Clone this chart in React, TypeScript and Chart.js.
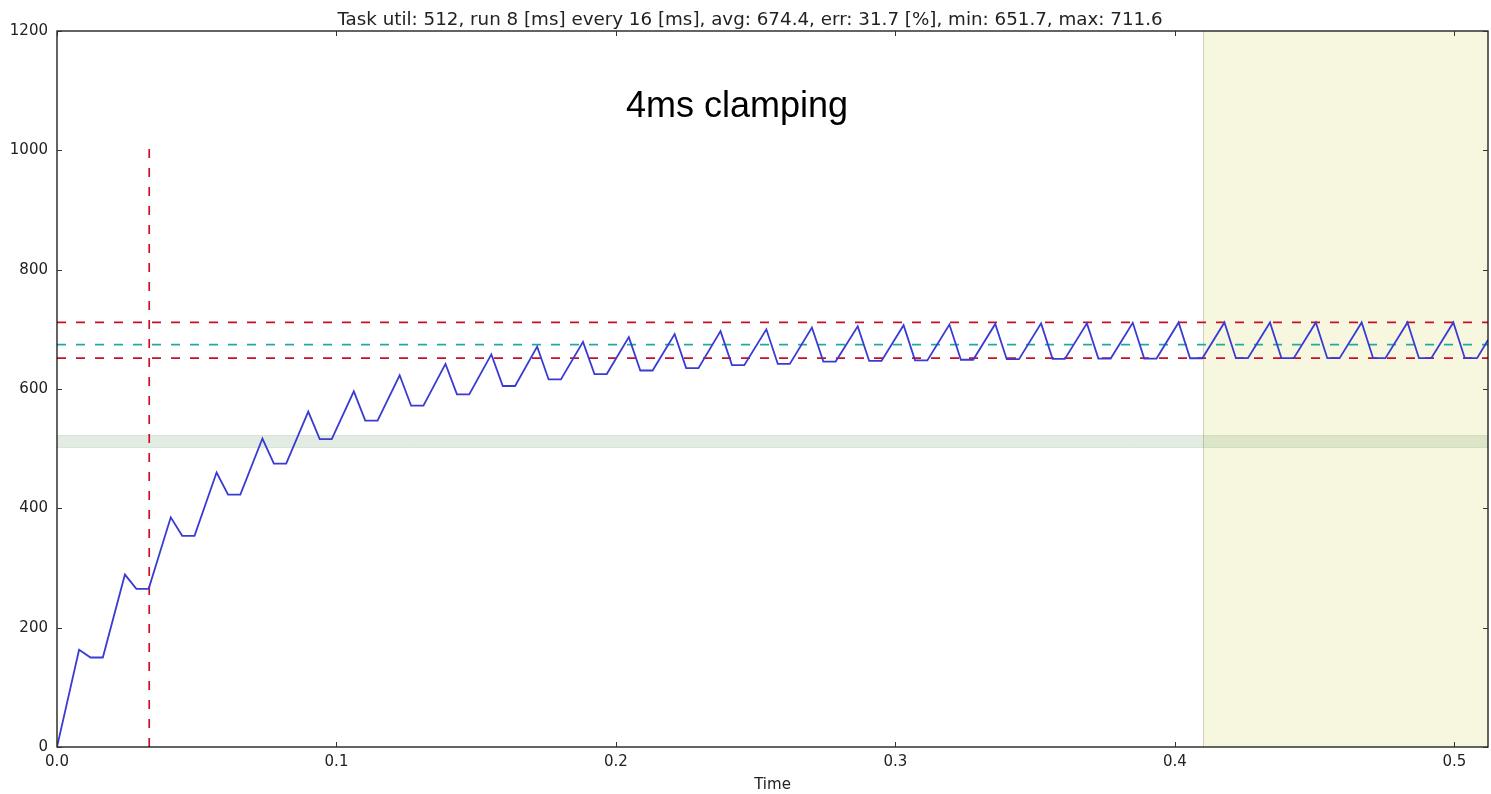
import React, { useEffect, useRef } from "react";
import { Chart, registerables } from "chart.js";

Chart.register(...registerables);

const TITLE = "Task util: 512, run 8 [ms] every 16 [ms], avg: 674.4, err: 31.7 [%], min: 651.7, max: 711.6";
const NOTE = "4ms clamping";
const X_LABEL = "Time";

// Blue series: rise start, peak, decay end (then flat until next rise start)
const cycleStart = [0, 0.0164, 0.0328, 0.0492, 0.0656, 0.082, 0.0983, 0.1147, 0.1311, 0.1475, 0.1639, 0.1803, 0.1967, 0.2131, 0.2295, 0.2459, 0.2622, 0.2786, 0.295, 0.3114, 0.3278, 0.3442, 0.3606, 0.377, 0.3934, 0.4098, 0.4261, 0.4425, 0.4589, 0.4753, 0.4917, 0.5081];
const peakTimes = [0.0079, 0.0243, 0.0407, 0.0571, 0.0735, 0.0899, 0.1062, 0.1226, 0.139, 0.1554, 0.1718, 0.1882, 0.2046, 0.221, 0.2374, 0.2538, 0.2701, 0.2865, 0.3029, 0.3193, 0.3357, 0.3521, 0.3685, 0.3849, 0.4013, 0.4177, 0.434, 0.4504, 0.4668, 0.4832, 0.4996];
const lowTimes = [0.012, 0.0284, 0.0448, 0.0612, 0.0776, 0.094, 0.1103, 0.1267, 0.1431, 0.1595, 0.1759, 0.1923, 0.2087, 0.2251, 0.2415, 0.2579, 0.2742, 0.2906, 0.307, 0.3234, 0.3398, 0.3562, 0.3726, 0.389, 0.4054, 0.4218, 0.4381, 0.4545, 0.4709, 0.4873, 0.5037];
const peakValues = [163, 289, 385, 460, 517, 562, 596, 623, 642, 658, 671, 679, 687, 692, 697, 700, 703, 705, 707, 708, 709, 710, 710, 711, 711.5, 711.5, 711.6, 711.6, 711.6, 711.6, 711.6];
const lowValues = [150, 265, 354, 423, 475, 516, 547, 572, 591, 605, 616, 625, 631, 635, 640, 642, 646, 647, 648, 649, 650, 650.5, 651, 651, 651.5, 651.7, 651.7, 651.7, 651.7, 651.7, 651.7];
const endPoint = { x: 0.512, y: 682 };

const AVG = 674.4;
const MIN = 651.7;
const MAX = 711.6;
const BAND_LOW = 502;
const BAND_HIGH = 522;
const MARKER_X = 0.033;
const MARKER_TOP = 1015;
const SHADE_START = 0.41;
const X_MIN = 0;
const X_MAX = 0.512;
const Y_MIN = 0;
const Y_MAX = 1200;
const xTicks = [0, 0.1, 0.2, 0.3, 0.4, 0.5];
const yTicks = [0, 200, 400, 600, 800, 1000, 1200];

const FONT = "'DejaVu Sans', sans-serif";
const RED = "#c8102a";

export default function App() {
  const ref = useRef<HTMLCanvasElement>(null);

  useEffect(() => {
    document.body.style.margin = "0";
    const pts: { x: number; y: number }[] = [{ x: cycleStart[0], y: 0 }];
    for (let k = 0; k < peakTimes.length; k++) {
      pts.push({ x: peakTimes[k], y: peakValues[k] });
      pts.push({ x: lowTimes[k], y: lowValues[k] });
      pts.push({ x: cycleStart[k + 1], y: lowValues[k] });
    }
    pts.push(endPoint);

    const spansPlugin = {
      id: "spans",
      beforeDatasetsDraw(chart: any) {
        const { ctx, chartArea: a, scales } = chart;
        const xs = scales.x;
        const ys = scales.y;
        ctx.save();
        const x0 = xs.getPixelForValue(SHADE_START);
        ctx.fillStyle = "rgba(191,191,0,0.12)";
        ctx.fillRect(x0, a.top, a.right - x0, a.bottom - a.top);
        ctx.strokeStyle = "rgba(120,120,100,0.3)";
        ctx.lineWidth = 1;
        ctx.beginPath();
        ctx.moveTo(Math.round(x0) + 0.5, a.top);
        ctx.lineTo(Math.round(x0) + 0.5, a.bottom);
        ctx.stroke();
        const yb0 = ys.getPixelForValue(BAND_HIGH);
        const yb1 = ys.getPixelForValue(BAND_LOW);
        ctx.fillStyle = "rgba(40,110,30,0.13)";
        ctx.fillRect(a.left, yb0, a.right - a.left, yb1 - yb0);
        ctx.strokeStyle = "rgba(40,110,30,0.12)";
        ctx.beginPath();
        ctx.moveTo(a.left, yb0);
        ctx.lineTo(a.right, yb0);
        ctx.moveTo(a.left, yb1);
        ctx.lineTo(a.right, yb1);
        ctx.stroke();
        ctx.restore();
      },
    };

    const framePlugin = {
      id: "frame",
      afterDraw(chart: any) {
        const { ctx, chartArea: a, scales } = chart;
        ctx.save();
        ctx.strokeStyle = "#111";
        ctx.lineWidth = 1.3;
        ctx.strokeRect(a.left, a.top, a.right - a.left, a.bottom - a.top);
        ctx.lineWidth = 1;
        ctx.strokeStyle = "#333";
        ctx.beginPath();
        for (const v of xTicks) {
          const px = Math.round(scales.x.getPixelForValue(v)) + 0.5;
          ctx.moveTo(px, a.bottom);
          ctx.lineTo(px, a.bottom - 5);
          ctx.moveTo(px, a.top);
          ctx.lineTo(px, a.top + 5);
        }
        for (const v of yTicks) {
          const py = Math.round(scales.y.getPixelForValue(v)) + 0.5;
          ctx.moveTo(a.left, py);
          ctx.lineTo(a.left + 5, py);
          ctx.moveTo(a.right, py);
          ctx.lineTo(a.right - 5, py);
        }
        ctx.stroke();
        ctx.fillStyle = "#222";
        ctx.font = `18.3px ${FONT}`;
        ctx.textAlign = "center";
        ctx.textBaseline = "alphabetic";
        ctx.fillText(TITLE, 750, 25);
        ctx.fillStyle = "#000";
        ctx.font = "36px 'Liberation Sans', Arial, sans-serif";
        ctx.fillText(NOTE, 737, 117);
        ctx.restore();
      },
    };

    const dashed = (data: { x: number; y: number }[], color: string) => ({
      data,
      borderColor: color,
      borderWidth: 1.7,
      borderDash: [9, 10],
      pointRadius: 0,
      fill: false,
      order: 1,
    });

    const chart = new Chart(ref.current as HTMLCanvasElement, {
      type: "line",
      data: {
        datasets: [
          {
            data: pts,
            borderColor: "#3a3ad4",
            borderWidth: 1.8,
            pointRadius: 0,
            tension: 0,
            fill: false,
            order: 0,
          },
          dashed([{ x: X_MIN, y: MAX }, { x: X_MAX, y: MAX }], RED),
          dashed([{ x: X_MIN, y: MIN }, { x: X_MAX, y: MIN }], RED),
          dashed([{ x: X_MIN, y: AVG }, { x: X_MAX, y: AVG }], "#22aaa0"),
          dashed([{ x: MARKER_X, y: 0 }, { x: MARKER_X, y: MARKER_TOP }], RED),
        ] as any,
      },
      options: {
        animation: false,
        responsive: true,
        maintainAspectRatio: false,
        layout: { padding: { top: 31, right: 3, left: 0, bottom: 0 } },
        plugins: {
          legend: { display: false },
          tooltip: { enabled: false },
          title: { display: false },
        },
        scales: {
          x: {
            type: "linear",
            min: X_MIN,
            max: X_MAX,
            afterBuildTicks: (s: any) => {
              s.ticks = xTicks.map((v) => ({ value: v }));
            },
            afterFit: (s: any) => {
              s.height = 47;
            },
            grid: { display: false, drawTicks: false },
            border: { display: false },
            ticks: {
              autoSkip: false,
              maxRotation: 0,
              padding: 6,
              color: "#222",
              font: { family: FONT, size: 15 },
              callback: (v: any) => Number(v).toFixed(1),
            },
            title: {
              display: true,
              text: X_LABEL,
              color: "#222",
              padding: { top: 0, bottom: 0 },
              font: { family: FONT, size: 15 },
            },
          },
          y: {
            type: "linear",
            min: Y_MIN,
            max: Y_MAX,
            afterBuildTicks: (s: any) => {
              s.ticks = yTicks.map((v) => ({ value: v }));
            },
            afterFit: (s: any) => {
              s.width = 57;
            },
            grid: { display: false, drawTicks: false },
            border: { display: false },
            ticks: {
              padding: 9,
              color: "#222",
              font: { family: FONT, size: 15 },
              callback: (v: any) => String(v),
            },
          },
        },
      } as any,
      plugins: [spansPlugin, framePlugin],
    });
    return () => chart.destroy();
  }, []);

  return (
    <div style={{ width: 1491, height: 794, position: "relative" }}>
      <canvas ref={ref} />
    </div>
  );
}
